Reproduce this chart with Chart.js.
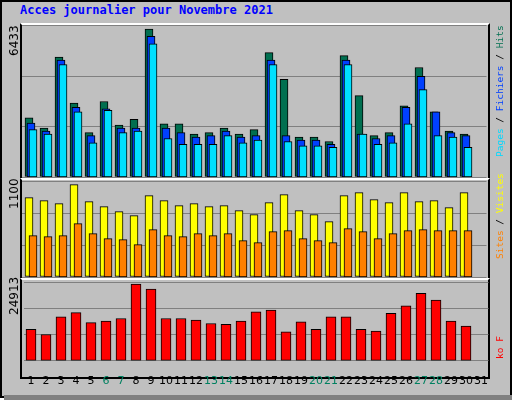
<!DOCTYPE html>
<html><head><meta charset="utf-8">
<script src="https://cdn.jsdelivr.net/npm/chart.js@4/dist/chart.umd.min.js"></script>
<style>
body{margin:0;width:512px;height:400px;background:#fff;overflow:hidden;font-family:"DejaVu Sans Mono",monospace}
#frame{position:absolute;left:0;top:0;width:508px;height:394px;background:#c0c0c0;border:2px solid #000;}
#shadow{position:absolute;left:4px;top:395px;width:508px;height:5px;background:#808080}
.title{position:absolute;left:20px;top:3px;color:#0000ff;font:bold 12px "DejaVu Sans Mono",monospace}
.panel{position:absolute;left:20px;width:470px;border-top:2px solid #fff;border-bottom:2px solid #000;border-left:2px solid #000;border-right:2px solid #000;box-sizing:border-box}
canvas{position:absolute;left:0;top:0}
.rl{position:absolute;font:12px "DejaVu Sans",sans-serif;color:#000;transform-origin:left top;transform:rotate(-90deg);white-space:nowrap}
.rr{position:absolute;font:9.5px "DejaVu Sans Mono",monospace;transform-origin:left top;transform:rotate(-90deg);white-space:nowrap}
</style></head><body>
<div id="frame"></div><div id="shadow"></div>
<div class="title">Acces journalier pour Novembre 2021</div>
<div class="panel" style="top:23px;height:157px"></div>
<div class="panel" style="top:178px;height:102px"></div>
<div class="panel" style="top:278px;height:101px"></div>
<div id="host"></div>
<div class="rl" style="left:7px;top:56px">6433</div>
<div class="rl" style="left:7px;top:209px">1100</div>
<div class="rl" style="left:7px;top:315px">24913</div>
<div class="rr" style="left:494px;top:157px"><span style="color:#00d8ff">Pages</span> / <span style="color:#0040ff">Fichiers</span> / <span style="color:#006f50">Hits</span></div>
<div class="rr" style="left:494px;top:259px"><span style="color:#ff8000">Sites</span> / <span style="color:#ffff00">Visites</span></div>
<div class="rr" style="left:494px;top:359px"><span style="color:#ff0000">ko F</span></div>
<script>
const days=["1","2","3","4","5","6","7","8","9","10","11","12","13","14","15","16","17","18","19","20","21","22","23","24","25","26","27","28","29","30","31"];
const weekend=["6","7","13","14","20","21","27","28"];
const hits=[2573,2123,5211,3217,1930,3281,2252,2509,6433,2316,2316,1866,1930,2123,1866,2059,5404,4246,1737,1737,1544,5275,3538,1801,1930,3088,4760,2831,1994,1866,null];
const files=[2348,1994,5082,3024,1801,2959,2123,2123,6111,2123,1930,1737,1801,1994,1737,1801,5082,1801,1608,1608,1415,5082,1866,1673,1801,3024,4374,2831,1930,1801,null];
const pages=[2059,1866,4889,2831,1480,2895,1930,1994,5790,1673,1415,1415,1415,1801,1480,1608,4889,1544,1351,1351,1287,4889,1866,1415,1480,2316,3795,1801,1737,1287,null];
const visits=[928,893,858,1080,882,823,765,718,952,893,835,858,823,835,776,729,870,963,776,729,647,952,987,905,870,987,882,893,811,987,null];
const sites=[484,472,484,624,507,449,437,378,554,484,472,507,484,507,425,402,530,542,449,425,402,566,530,449,507,542,554,542,542,542,null];
const kbytes=[10183,8547,14275,15638,12365,12911,13729,24913,23276,13729,13729,13183,12092,11820,12911,15911,16457,9365,12638,10183,14275,14275,10183,9638,15366,17820,21912,19730,12911,11274,null];
const maxTop=6585,maxMid=1123,maxBot=25570;
Chart.defaults.animation=false;
const host=document.getElementById('host');
function mk(data,color,top,h,ymax,shift,thick,grid,showX){
  const cv=document.createElement('canvas');cv.width=512;cv.height=400;host.appendChild(cv);
  const bottomPad=showX?6:400-top-h;
  new Chart(cv,{type:'bar',
    data:{labels:days,datasets:[{data:data,backgroundColor:color,borderColor:'#000',borderWidth:1,borderSkipped:false,barThickness:thick,grouped:false}]},
    options:{responsive:false,devicePixelRatio:1,
      layout:{padding:{left:23.5+shift,right:23.5-shift,top:top,bottom:bottomPad}},
      plugins:{legend:{display:false},tooltip:{enabled:false}},
      scales:{
        x:{display:showX,grid:{display:false},border:{display:false},
          ticks:{padding:6,maxRotation:0,autoSkip:false,font:{family:'DejaVu Sans',size:11},
            color:c=>weekend.includes(days[c.index])?'#008060':'#000'}},
        y:{min:0,max:ymax,ticks:{display:false,stepSize:ymax/3},border:{display:false},
          grid:{display:grid,color:'#808080',lineWidth:1,drawTicks:false}}
      }}});
}
mk(hits,'#006f50',25.5,151.5,maxTop,-2,8,true,false);
mk(files,'#0040ff',25.5,151.5,maxTop,0,8,false,false);
mk(pages,'#00e0ff',25.5,151.5,maxTop,2,8,false,false);
mk(visits,'#ffff00',181,96,maxMid,-2,8,true,false);
mk(sites,'#ff8000',181,96,maxMid,2,8,false,false);
mk(kbytes,'#ff0000',282,94,maxBot,0,10,true,true);
</script></body></html>
